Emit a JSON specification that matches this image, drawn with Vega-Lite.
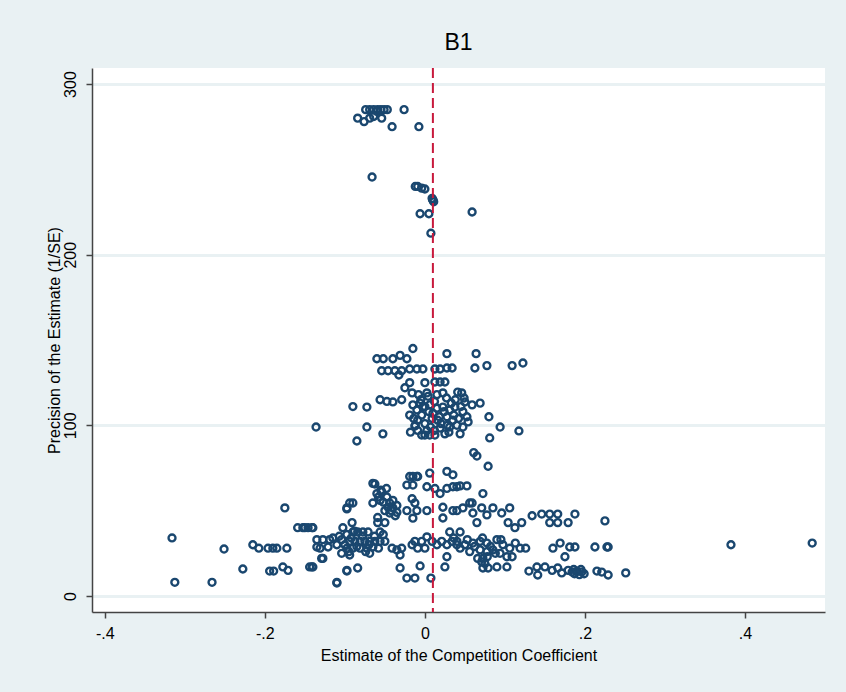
{
"$schema": "https://vega.github.io/schema/vega-lite/v6.json",
"width": 733, "height": 544,
"autosize": {"type": "none"},
"padding": {"left": 92, "top": 68, "right": 21, "bottom": 80},
"background": "#e9f1f3",
"title": {"text": "B1", "fontSize": 23, "font": "Liberation Sans", "fontWeight": "normal", "color": "#000000", "offset": 12},
"config": {
  "view": {"fill": "#ffffff", "stroke": null},
  "axis": {"labelFont": "Liberation Sans", "titleFont": "Liberation Sans", "labelFontSize": 16, "titleFontSize": 16, "titleFontWeight": "normal", "labelColor": "#000000", "titleColor": "#000000", "domainColor": "#444444", "tickColor": "#444444", "domainWidth": 1.5, "tickWidth": 1.5, "tickSize": 6}
},
"layer": [
{
"data": {"values": [
{"x":-0.074,"y":285},{"x":-0.069,"y":285},{"x":-0.064,"y":285},{"x":-0.059,"y":285},{"x":-0.055,"y":285},{"x":-0.051,"y":285},{"x":-0.047,"y":285},{"x":-0.06,"y":284},{"x":-0.026,"y":285},
{"x":-0.084,"y":280},{"x":-0.076,"y":278},{"x":-0.069,"y":280},{"x":-0.064,"y":281},{"x":-0.054,"y":280},{"x":-0.041,"y":275},{"x":-0.0075,"y":275},
{"x":-0.066,"y":245.5},{"x":-0.012,"y":240},{"x":-0.009,"y":240},{"x":-0.004,"y":239},{"x":0.0,"y":238.5},{"x":0.01,"y":232},{"x":0.01,"y":232},{"x":0.011,"y":231},{"x":0.009,"y":233},{"x":-0.006,"y":224},{"x":0.005,"y":224},{"x":0.059,"y":225},{"x":0.0075,"y":212.6},
{"x":-0.015,"y":145},{"x":0.0275,"y":142},{"x":0.064,"y":142},{"x":-0.06,"y":139},{"x":-0.052,"y":139},{"x":-0.04,"y":139},{"x":-0.031,"y":141},{"x":-0.0225,"y":139},
{"x":-0.054,"y":132},{"x":-0.046,"y":132},{"x":-0.0375,"y":132},{"x":-0.029,"y":132},{"x":-0.019,"y":133},{"x":-0.01,"y":133},{"x":-0.0025,"y":133},{"x":0.0125,"y":133},{"x":0.019,"y":133},{"x":0.0275,"y":133.6},{"x":0.034,"y":133.6},{"x":0.0625,"y":133.6},{"x":0.0775,"y":135},{"x":0.109,"y":135},{"x":0.1225,"y":136.5},
{"x":-0.0325,"y":129.5},{"x":-0.019,"y":125},{"x":0,"y":125},{"x":0.0125,"y":125.4},{"x":0.019,"y":125.4},{"x":0.025,"y":125.4},{"x":-0.025,"y":122},{"x":-0.016,"y":119},{"x":0.0025,"y":119},{"x":0.0225,"y":119},{"x":0.041,"y":119.5},{"x":0.046,"y":119},
{"x":-0.09,"y":111},{"x":-0.0725,"y":110.7},{"x":-0.056,"y":115},{"x":-0.0475,"y":114},{"x":-0.04,"y":113.7},{"x":-0.029,"y":115},{"x":0.05,"y":113.7},{"x":0.059,"y":112},{"x":0.069,"y":113},
{"x":-0.019,"y":106},{"x":-0.01,"y":109},{"x":-0.0025,"y":110.7},{"x":0.006,"y":112},{"x":0.015,"y":110},{"x":0.0225,"y":110.7},{"x":0.031,"y":109},{"x":0.0375,"y":110.7},
{"x":-0.009,"y":103},{"x":0,"y":101},{"x":0.009,"y":104},{"x":0.016,"y":103},{"x":0.0275,"y":105},{"x":0.035,"y":103},{"x":0.0475,"y":108},{"x":0.0525,"y":105},{"x":0.054,"y":102},{"x":0.0475,"y":99},
{"x":0.08,"y":105},{"x":0.094,"y":99},{"x":0.1175,"y":96.7},{"x":0.081,"y":92.6},{"x":-0.0725,"y":99},{"x":-0.0525,"y":95},{"x":-0.085,"y":90.8},{"x":-0.0125,"y":99.6},{"x":0,"y":94.3},{"x":0.006,"y":94.3},{"x":0.0125,"y":94.3},{"x":0.0025,"y":97},{"x":0.019,"y":98.4},{"x":0.031,"y":99},{"x":0.044,"y":95},{"x":-0.004,"y":94.3},{"x":-0.009,"y":97},
{"x":-0.136,"y":99},{"x":0.061,"y":84},{"x":0.065,"y":82},{"x":0.079,"y":76},
{"x":-0.015,"y":112},{"x":-0.005,"y":115},{"x":0.004,"y":117},{"x":0.012,"y":114},{"x":0.027,"y":116},{"x":0.038,"y":115},{"x":-0.012,"y":100},{"x":-0.004,"y":106},{"x":0.01,"y":107},{"x":0.02,"y":101},{"x":0.03,"y":96},{"x":0.04,"y":100},{"x":0.045,"y":111},{"x":-0.018,"y":96},{"x":0.007,"y":99},{"x":0.024,"y":108},{"x":0.033,"y":113},{"x":0.015,"y":118},{"x":0.0,"y":111},{"x":0.042,"y":104},
{"x":-0.006,"y":113},{"x":0.005,"y":108},{"x":0.018,"y":105},{"x":0.028,"y":100},{"x":0.036,"y":106},{"x":-0.014,"y":104},{"x":0.012,"y":97},{"x":0.025,"y":95},{"x":-0.008,"y":118},{"x":0.049,"y":116},
{"x":0.006,"y":72},{"x":0.0275,"y":73},{"x":0.035,"y":71},{"x":-0.015,"y":70},{"x":-0.009,"y":70},
{"x":-0.0625,"y":65.6},{"x":-0.019,"y":70},{"x":-0.01,"y":70},{"x":-0.0225,"y":65},{"x":-0.015,"y":65},{"x":0.0025,"y":64},{"x":0.0125,"y":63},{"x":0.019,"y":60},{"x":0.0275,"y":63},{"x":0.035,"y":64},{"x":0.044,"y":64.5},{"x":0.0525,"y":64.5},
{"x":-0.06,"y":60},{"x":-0.054,"y":61},{"x":-0.0475,"y":58},{"x":-0.056,"y":56},{"x":-0.044,"y":54.5},{"x":-0.04,"y":51.6},{"x":-0.035,"y":49},{"x":-0.05,"y":50},{"x":-0.044,"y":48.6},{"x":-0.035,"y":53},{"x":-0.016,"y":57},{"x":-0.0125,"y":54.5},{"x":-0.0225,"y":50},{"x":-0.01,"y":50},{"x":0.0025,"y":50},{"x":-0.015,"y":45.6},
{"x":-0.094,"y":54.5},{"x":-0.0975,"y":51},{"x":-0.091,"y":43},{"x":-0.1025,"y":40},{"x":-0.059,"y":46},{"x":-0.05,"y":43},{"x":-0.059,"y":43},{"x":-0.056,"y":37.5},
{"x":-0.058,"y":58},{"x":-0.052,"y":55},{"x":-0.046,"y":52},{"x":-0.04,"y":56},{"x":-0.037,"y":47},{"x":-0.042,"y":50},{"x":-0.055,"y":62},{"x":-0.048,"y":63},
{"x":-0.15,"y":40},{"x":-0.141,"y":40},{"x":-0.135,"y":33},{"x":-0.1275,"y":33},{"x":-0.119,"y":33},
{"x":-0.11,"y":30},{"x":-0.104,"y":33},{"x":-0.0975,"y":36},{"x":-0.09,"y":37.5},{"x":-0.084,"y":37.5},{"x":-0.0775,"y":37.5},{"x":-0.071,"y":37.5},{"x":-0.094,"y":32},{"x":-0.0875,"y":32},{"x":-0.081,"y":32},{"x":-0.075,"y":32},{"x":-0.069,"y":32},{"x":-0.0625,"y":32},{"x":-0.056,"y":32},{"x":-0.05,"y":32},{"x":-0.0975,"y":28},{"x":-0.09,"y":28},{"x":-0.081,"y":28},{"x":-0.0725,"y":28},{"x":-0.065,"y":28.7},{"x":-0.104,"y":25},{"x":-0.094,"y":24},{"x":-0.069,"y":25},{"x":-0.131,"y":28},{"x":-0.121,"y":28.7},{"x":-0.115,"y":34},
{"x":-0.107,"y":35},{"x":-0.1,"y":30},{"x":-0.092,"y":34},{"x":-0.085,"y":29},{"x":-0.078,"y":35},{"x":-0.07,"y":30},{"x":-0.063,"y":35},{"x":-0.058,"y":28},{"x":-0.052,"y":36},{"x":-0.088,"y":38},{"x":-0.074,"y":26},{"x":-0.095,"y":26},
{"x":-0.129,"y":22},{"x":-0.141,"y":17},{"x":-0.0975,"y":15},{"x":-0.084,"y":16.4},{"x":-0.11,"y":8},
{"x":-0.041,"y":28},{"x":-0.035,"y":27},{"x":-0.029,"y":28},{"x":-0.031,"y":24},{"x":-0.031,"y":16.4},{"x":-0.006,"y":17.6},{"x":-0.0225,"y":10.5},{"x":-0.0125,"y":10.5},{"x":0.0075,"y":10.5},
{"x":-0.0125,"y":32},{"x":-0.004,"y":32},{"x":0.0025,"y":34.6},{"x":0.009,"y":32},{"x":0.015,"y":30},{"x":0.021,"y":32},{"x":0.0275,"y":30},{"x":0.034,"y":32},{"x":0.04,"y":30},{"x":0.031,"y":37.5},{"x":0.044,"y":37.5},{"x":0.0275,"y":23},{"x":0.025,"y":17},{"x":0,"y":28},{"x":-0.009,"y":28},{"x":-0.016,"y":30},
{"x":0.0225,"y":52},{"x":0.0225,"y":45.7},{"x":0.04,"y":50},{"x":0.0475,"y":51.6},{"x":0.056,"y":54.5},
{"x":0.04,"y":64},{"x":0.0725,"y":60},{"x":0.059,"y":54.5},{"x":0.035,"y":50},{"x":0.06,"y":48.6},{"x":0.071,"y":51.6},{"x":0.085,"y":51.6},{"x":0.096,"y":48.6},{"x":0.106,"y":51.6},{"x":0.065,"y":43},{"x":0.0775,"y":47.5},{"x":0.104,"y":43},{"x":0.1125,"y":40},{"x":0.121,"y":43},{"x":0.134,"y":47},{"x":0.146,"y":48},{"x":0.156,"y":48},{"x":0.166,"y":48},{"x":0.156,"y":43},{"x":0.166,"y":43},{"x":0.179,"y":43},{"x":0.1875,"y":48},{"x":0.225,"y":44},
{"x":0.04,"y":32},{"x":0.05,"y":30},{"x":0.06,"y":31},{"x":0.069,"y":32},{"x":0.0775,"y":31},{"x":0.09,"y":33},{"x":0.0975,"y":30},{"x":0.106,"y":28},{"x":0.119,"y":28},{"x":0.126,"y":28},{"x":0.056,"y":26},{"x":0.069,"y":27},{"x":0.0775,"y":26},{"x":0.085,"y":27},{"x":0.094,"y":25},{"x":0.0725,"y":22},{"x":0.075,"y":19},{"x":0.0725,"y":16.4},{"x":0.079,"y":16.4},{"x":0.09,"y":17},{"x":0.1025,"y":17},{"x":0.109,"y":23},{"x":0.1025,"y":23},
{"x":0.036,"y":34},{"x":0.044,"y":28},{"x":0.053,"y":33},{"x":0.062,"y":29},{"x":0.072,"y":34},{"x":0.082,"y":29},{"x":0.088,"y":25},{"x":0.095,"y":33},{"x":0.113,"y":31},{"x":0.066,"y":22},{"x":0.078,"y":23},{"x":0.071,"y":20},
{"x":0.16,"y":28},{"x":0.169,"y":31},{"x":0.181,"y":28.7},{"x":0.1875,"y":28.7},{"x":0.175,"y":23},{"x":0.2125,"y":28.7},{"x":0.2275,"y":28.7},{"x":0.229,"y":28.7},
{"x":0.13,"y":14.6},{"x":0.14,"y":17},{"x":0.141,"y":12.3},{"x":0.15,"y":17},{"x":0.159,"y":15},{"x":0.166,"y":16.4},{"x":0.171,"y":13.5},{"x":0.179,"y":15},
{"x":0.184,"y":14},{"x":0.187,"y":13},{"x":0.19,"y":14.5},{"x":0.193,"y":12.5},{"x":0.196,"y":14},{"x":0.199,"y":13},{"x":0.186,"y":15.5},{"x":0.195,"y":15.5},
{"x":0.215,"y":14.6},{"x":0.221,"y":14},{"x":0.229,"y":12.3},{"x":0.3825,"y":30},{"x":0.484,"y":31},{"x":0.251,"y":13.5},
{"x":-0.316,"y":34},{"x":-0.3125,"y":8},{"x":-0.266,"y":8},{"x":-0.251,"y":27.5},{"x":-0.2275,"y":15.8},{"x":-0.215,"y":30},{"x":-0.2075,"y":28},{"x":-0.196,"y":28},{"x":-0.19,"y":28},{"x":-0.185,"y":28},{"x":-0.1725,"y":28},{"x":-0.194,"y":14.6},{"x":-0.189,"y":14.6},{"x":-0.1775,"y":17},{"x":-0.171,"y":15},{"x":-0.175,"y":51.6},{"x":-0.159,"y":40},{"x":-0.1525,"y":40},{"x":-0.146,"y":40},{"x":-0.14,"y":40},{"x":-0.144,"y":17},{"x":-0.14,"y":17},{"x":-0.135,"y":28.7},{"x":-0.1275,"y":22},{"x":-0.11,"y":7.6},
{"x":-0.09,"y":54.5},{"x":-0.0975,"y":51.6},{"x":-0.065,"y":66},{"x":-0.065,"y":54.5},{"x":-0.0975,"y":14.6}
]},
"mark": {"type": "point", "shape": "circle", "filled": false, "stroke": "#1a476f", "strokeWidth": 2.4, "size": 48, "opacity": 1},
"encoding": {
  "x": {"field": "x", "type": "quantitative", "scale": {"domain": [-0.416, 0.5], "nice": false, "zero": false},
        "axis": {"values": [-0.4, -0.2, 0, 0.2, 0.4], "grid": false, "title": "Estimate of the Competition Coefficient", "titlePadding": 6, "labelPadding": 7,
                 "labelExpr": "datum.value == 0 ? '0' : (datum.value < 0 ? '-' : '') + substring(format(abs(datum.value), '.1f'), 1)"}},
  "y": {"field": "y", "type": "quantitative", "scale": {"domain": [-9.4, 309.4], "nice": false, "zero": false},
        "axis": {"values": [0, 100, 200, 300], "grid": true, "gridColor": "#e9f1f3", "gridWidth": 3, "title": "Precision of the Estimate (1/SE)", "labelAngle": 270, "labelAlign": "center", "labelBaseline": "bottom", "labelPadding": 8, "titlePadding": 0}}
}
},
{
"data": {"values": [{"x": 0.01}]},
"mark": {"type": "rule", "color": "#c8193c", "strokeWidth": 2, "strokeDash": [10, 5]},
"encoding": {"x": {"field": "x", "type": "quantitative"}}
}
]
}
